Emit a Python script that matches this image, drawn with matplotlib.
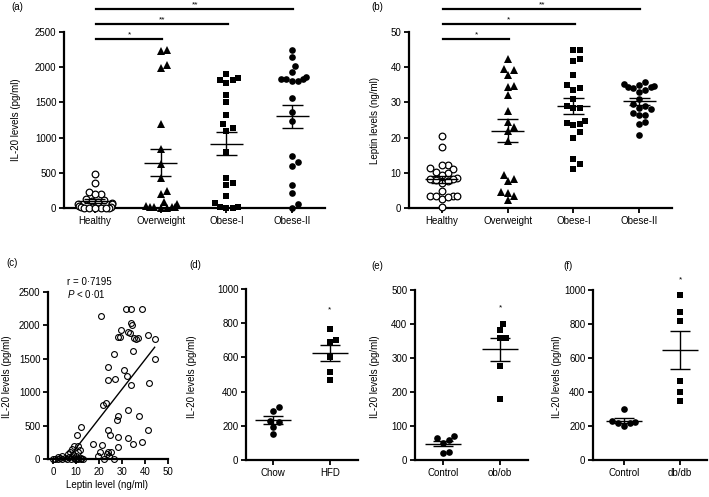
import numpy as np
import matplotlib
matplotlib.use('Agg')
import matplotlib.pyplot as plt

plt.rcParams['font.family'] = ['Liberation Sans', 'DejaVu Sans']
plt.rcParams['mathtext.fontset'] = 'custom'
plt.rcParams['mathtext.it'] = 'Liberation Sans:italic'
plt.rcParams['mathtext.rm'] = 'Liberation Sans'

# ---- data ----
groups = ['Healthy', 'Overweight', 'Obese-I', 'Obese-II']

il20_healthy = [490, 355, 230, 200, 195, 130, 110, 100, 80, 70, 60, 50, 30, 20, 10, 5, 0, 0, 0, 0, 0]
il20_overweight = [2240, 2230, 2030, 1990, 1200, 840, 630, 430, 240, 200, 90, 50, 30, 20, 20, 10, 10, 0, 0]
il20_obese1 = [1900, 1840, 1820, 1820, 1780, 1600, 1500, 1320, 1190, 1130, 1100, 800, 430, 350, 330,
               170, 70, 20, 10, 0, 0]
il20_obese2 = [2240, 2140, 2020, 1930, 1860, 1830, 1830, 1830, 1800, 1800, 1560, 1360, 1240, 740, 650,
               590, 320, 220, 50, 0]

lep_healthy = [20.5, 17.3, 12.3, 12.3, 11.3, 11, 10.3, 10, 9.5, 8.5, 8.3, 8.3, 8, 7, 7.8, 4.8, 3.5, 3.5,
               3.5, 3.3, 2.5, 3.0, 0.3]
lep_overweight = [42.3, 39.5, 39.2, 37.8, 34.8, 34.5, 32, 27.5, 24.5, 23, 22, 19, 9.5, 8.2, 7.8, 4.5,
                  4.3, 3.3, 2.3]
lep_obese1 = [45, 45, 42.3, 41.8, 37.8, 35, 34, 33.5, 31, 29, 28.5, 28.5, 24.8, 24.2, 23.8, 23.5, 21.5,
              20, 13.8, 12.5, 11.2]
lep_obese2 = [35.8, 35.2, 35.0, 34.8, 34.5, 34.0, 34.3, 33.5, 33.0, 31.0, 29.5, 29.0, 28.5, 28.0, 27.0,
              26.5, 26.5, 24.5, 24.0, 20.8]

sig_a = ['*', '**', '**']
sig_b = ['*', '*', '**']

# correlation panel (c)
corr_lep = [20.9, 31.6, 33.9, 38.8, 34.0, 34.3, 29.6, 28.2, 29.2, 32.8, 35.0, 37.0, 41.3, 44.2, 33.5,
            36.0, 26.3, 34.6, 44.2, 23.9, 23.9, 27.0, 30.7, 32.2, 34.1, 41.9, 21.6, 23.0, 24.1, 24.6,
            28.2, 27.8, 32.8, 37.4, 28.2, 32.6, 34.6, 38.9, 41.5, 28.2, 25.0, 24.4, 20.4, 21.4, 17.2,
            19.7, 26.3, 23.3, 24.0, 22.0, 12.2, 10.5, 9.3, 11.0, 11.7, 11.0, 8.1, 7.4, 6.7, 3.8, 2.3,
            0.0, 1.0, 2.0, 3.0, 4.0, 5.0, 6.0, 7.0, 8.0, 9.0, 9.5, 10.0, 11.0, 12.0, 13.0, 8.5, 10.0,
            12.0]
corr_il20 = [2145, 2240, 2240, 2245, 2030, 2000, 1930, 1820, 1830, 1900, 1810, 1810, 1850, 1800, 1880,
             1790, 1567, 1610, 1500, 1373, 1190, 1195, 1330, 1245, 1110, 1140, 810, 840, 430, 355,
             640, 590, 730, 640, 330, 310, 230, 250, 440, 180, 100, 50, 100, 210, 230,
             50, 0, 80, 110, 0, 480, 360, 190, 200, 135, 110, 150, 100, 80, 50, 35,
             0, 0, 0, 10, 0, 20, 0, 30, 0, 20, 0, 0, 0, 0, 0, 60, 40,
             20]

# mouse panels (d)-(f)
d_labels = ['Chow', 'HFD']
d_chow = [289, 309, 230, 225, 195, 152]
d_hfd = [768, 689, 703, 605, 514, 465]
e_labels = ['Control', 'ob/ob']
e_control = [70, 60, 65, 51, 21, 24]
e_obob = [400, 381, 358, 360, 277, 178]
f_labels = ['Control', 'db/db']
f_control = [300, 225, 230, 220, 200, 215]
f_dbdb = [970, 873, 818, 467, 402, 349]

W, H = 709, 497
fig = plt.figure(figsize=(W / 100, H / 100), dpi=100)


def add_ax(l, t, r, b):
    return fig.add_axes([l / W, 1 - b / H, (r - l) / W, (b - t) / H])


def style(ax):
    for s in ['top', 'right']:
        ax.spines[s].set_visible(False)
    for s in ['left', 'bottom']:
        ax.spines[s].set_linewidth(1.6)
    ax.tick_params(direction='out', length=3.5, width=1.3, labelsize=7, pad=2)


def swarm(ypx, d, lim):
    # beeswarm in pixel units, wide rows squeezed towards the centre
    off = np.zeros(len(ypx))
    placed = []
    for i in np.argsort(ypx):
        y = ypx[i]
        for k in range(60):
            c = ((k + 1) // 2) * (1 if k % 2 else -1) * d * 0.5
            if all(np.hypot(c - px, y - py) >= d for px, py in placed):
                break
        placed.append((c, y))
        off[i] = c
    return lim * np.tanh(off / lim)


open_c = dict(marker='o', ms=4.8, mfc='white', mec='black', mew=0.9)
fill_c = dict(marker='o', ms=4.8, mfc='black', mec='black', mew=0)
fill_s = dict(marker='s', ms=4.5, mfc='black', mec='black', mew=0)
fill_t = dict(marker='^', ms=5.2, mfc='black', mec='black', mew=0)


def dot_panel(ax, data, labels, styles, xlim, ylim, yticks, half=0.25, cap=0.16, d=6.5, lim=20):
    style(ax)
    ax.set_xlim(xlim)
    ax.set_ylim(ylim)
    pos = ax.get_position()
    xs = pos.width * W / (xlim[1] - xlim[0])
    ys = pos.height * H / (ylim[1] - ylim[0])
    for i, (vals, st) in enumerate(zip(data, styles)):
        vals = np.asarray(vals, float)
        off = swarm(vals * ys, d, lim) / xs
        ax.plot(i + off, vals, ls='none', clip_on=False, zorder=3, **st)
        m = vals.mean()
        s = vals.std(ddof=1) / np.sqrt(len(vals))
        ax.hlines(m, i - half, i + half, color='k', lw=1, zorder=4)
        ax.vlines(i, m - s, m + s, color='k', lw=1, zorder=4)
        ax.hlines([m - s, m + s], i - cap, i + cap, color='k', lw=1, zorder=4)
    ax.set_xticks(range(len(labels)))
    ax.set_xticklabels(labels)
    ax.set_yticks(yticks)


def sig_bars(ax, stars):
    tr = ax.get_xaxis_transform()
    for k, (yf, st) in enumerate(zip([0.96, 1.045, 1.13], stars)):
        ax.plot([0.02, k + 1.02], [yf, yf], color='k', lw=1.6, transform=tr, clip_on=False)
        ax.text((k + 1.04) / 2, yf + 0.005, st, transform=tr, ha='center', va='bottom', fontsize=6)


def label(x, y, s, **kw):
    fig.text(x / W, 1 - y / H, s, ha='center', va='center', fontsize=7, **kw)


# (a)
ax_a = add_ax(64, 32, 325, 208)
dot_panel(ax_a, [il20_healthy, il20_overweight, il20_obese1, il20_obese2], groups,
          [open_c, fill_t, fill_s, fill_c], (-0.47, 3.5), (0, 2500), range(0, 2501, 500), lim=18)
sig_bars(ax_a, sig_a)

# (b)
ax_b = add_ax(409, 32, 672, 208)
dot_panel(ax_b, [lep_healthy, lep_overweight, lep_obese1, lep_obese2], groups,
          [open_c, fill_t, fill_s, fill_c], (-0.5, 3.5), (0, 50), range(0, 51, 10), lim=20)
sig_bars(ax_b, sig_b)

# (c)
ax_c = add_ax(48, 292, 168, 459)
style(ax_c)
ax_c.set_xlim(-2.2, 50)
ax_c.set_ylim(0, 2500)
ax_c.plot(corr_lep, corr_il20, ls='none', marker='o', ms=4.2, mfc='none', mec='black', mew=0.8,
          clip_on=False, zorder=3)
slope, icpt = np.polyfit(corr_lep, corr_il20, 1)
xl = np.array([min(corr_lep), max(corr_lep)])
ax_c.plot(xl, slope * xl + icpt, color='k', lw=1)
ax_c.set_xticks(range(0, 51, 10))
ax_c.set_yticks(range(0, 2501, 500))
fig.text(67 / W, 1 - 282 / H, 'r = 0·7195', fontsize=7, va='center')
fig.text(67 / W, 1 - 294 / H, r'$P$ < 0·01', fontsize=7, va='center')

# (d)
ax_d = add_ax(246, 289, 358, 460)
dot_panel(ax_d, [d_chow, d_hfd], d_labels, [fill_c, fill_s], (-0.47, 1.49), (0, 1000),
          range(0, 1001, 200), half=0.32, cap=0.18)
ax_d.text(1, 880, '*', ha='center', va='center', fontsize=6)

# (e)
ax_e = add_ax(415, 290, 528, 460)
dot_panel(ax_e, [e_control, e_obob], e_labels, [fill_c, fill_s], (-0.49, 1.49), (0, 500),
          range(0, 501, 100), half=0.32, cap=0.18)
ax_e.text(1, 446, '*', ha='center', va='center', fontsize=6)

# (f)
ax_f = add_ax(593, 290, 707, 460)
dot_panel(ax_f, [f_control, f_dbdb], f_labels, [fill_c, fill_s], (-0.55, 1.48), (0, 1000),
          range(0, 1001, 200), half=0.32, cap=0.18)
ax_f.text(1, 1059, '*', ha='center', va='center', fontsize=6, clip_on=False)

# panel letters and axis titles
for x, y, s in [(17, 7, '(a)'), (377, 7, '(b)'), (12, 263, '(c)'), (195, 265, '(d)'),
                (377, 266, '(e)'), (568, 266, '(f)')]:
    label(x, y, s)
for x, y, s in [(16, 120, 'IL-20 levels (pg/ml)'), (375, 120, 'Leptin levels (ng/ml)'),
                (7, 377, 'IL-20 levels (pg/ml)'), (192, 377, 'IL-20 levels (pg/ml)'),
                (375, 377, 'IL-20 levels (pg/ml)'), (557, 377, 'IL-20 levels (pg/ml)')]:
    label(x, y, s, rotation=90)
label(107, 485, 'Leptin level (ng/ml)')

fig.savefig('out.png', dpi=100)
